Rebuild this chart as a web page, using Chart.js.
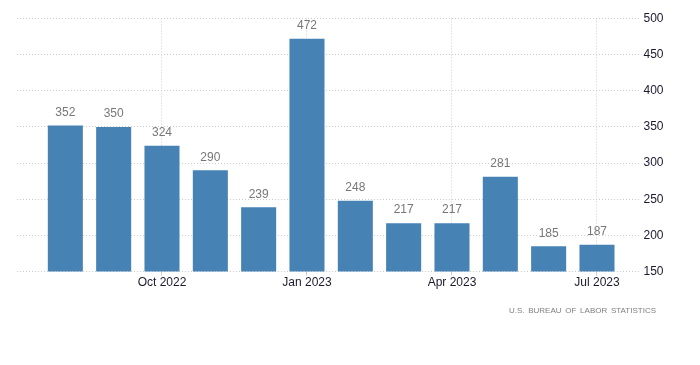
<!DOCTYPE html>
<html>
<head>
<meta charset="utf-8">
<script src="https://cdn.jsdelivr.net/npm/chart.js"></script>
<style>
  body { margin: 0; background: #fff; }
  #wrap { position: relative; width: 700px; height: 365px; }
  #source {
    position: absolute; right: 44px; top: 306px; line-height: 10px;
    font: 8px "Liberation Sans", Arial, sans-serif; letter-spacing: 0; word-spacing: 1.5px; color: #808080;
  }
</style>
</head>
<body>
<div id="wrap">
  <canvas id="chart" width="700" height="365"></canvas>
  <div id="source">U.S. BUREAU OF LABOR STATISTICS</div>
</div>
<script>
// månader aug 2022 - jul 2023
const months = ['Aug 2022', 'Sep 2022', 'Oct 2022', 'Nov 2022', 'Dec 2022', 'Jan 2023',
  'Feb 2023', 'Mar 2023', 'Apr 2023', 'May 2023', 'Jun 2023', 'Jul 2023'];
const values = [352, 350, 324, 290, 239, 472, 248, 217, 217, 281, 185, 187];
const xTickIdx = [2, 5, 8, 11]; // Oct, Jan, Apr, Jul
const yTicks = [150, 200, 250, 300, 350, 400, 450, 500];

const points = values.map((v, i) => ({ x: i, y: v }));

// skriver värdet ovanför varje stapel
const barLabels = {
  id: 'barLabels',
  afterDatasetsDraw(chart) {
    const ctx = chart.ctx;
    const meta = chart.getDatasetMeta(0);
    ctx.save();
    ctx.font = '12px "Liberation Sans", Arial, sans-serif';
    ctx.fillStyle = '#777';
    ctx.textAlign = 'center';
    ctx.textBaseline = 'bottom';
    meta.data.forEach((bar, i) => {
      ctx.fillText(values[i], bar.x, bar.y - 7);
    });
    ctx.restore();
  }
};

new Chart(document.getElementById('chart'), {
  type: 'bar',
  data: {
    datasets: [{
      data: points,
      backgroundColor: '#4682b4',
      borderWidth: 0,
      barPercentage: 0.725,
      categoryPercentage: 1
    }]
  },
  options: {
    responsive: false,
    animation: false,
    layout: { padding: { left: 17, top: 18.5, right: 33.5, bottom: 75 } },
    plugins: { legend: { display: false }, tooltip: { enabled: false } },
    scales: {
      x: {
        type: 'linear',
        offset: false,
        min: -1,
        max: 11.9,
        afterBuildTicks: axis => { axis.ticks = xTickIdx.map(v => ({ value: v })); },
        ticks: {
          callback: v => months[v],
          color: '#1a1a2e',
          font: { size: 12, family: '"Liberation Sans", Arial, sans-serif' },
          maxRotation: 0,
          padding: 0
        },
        grid: { offset: false, color: '#cccccc', lineWidth: 1, tickLength: 4 },
        border: { display: false, dash: [1, 2] }
      },
      y: {
        position: 'right',
        min: 150,
        max: 500,
        afterBuildTicks: axis => { axis.ticks = yTicks.map(v => ({ value: v })); },
        ticks: {
          color: '#1a1a2e',
          font: { size: 12, family: '"Liberation Sans", Arial, sans-serif' },
          padding: 3
        },
        grid: { color: '#cccccc', lineWidth: 1, drawTicks: false },
        border: { display: false, dash: [1, 2] }
      }
    }
  },
  plugins: [barLabels]
});
</script>
</body>
</html>
